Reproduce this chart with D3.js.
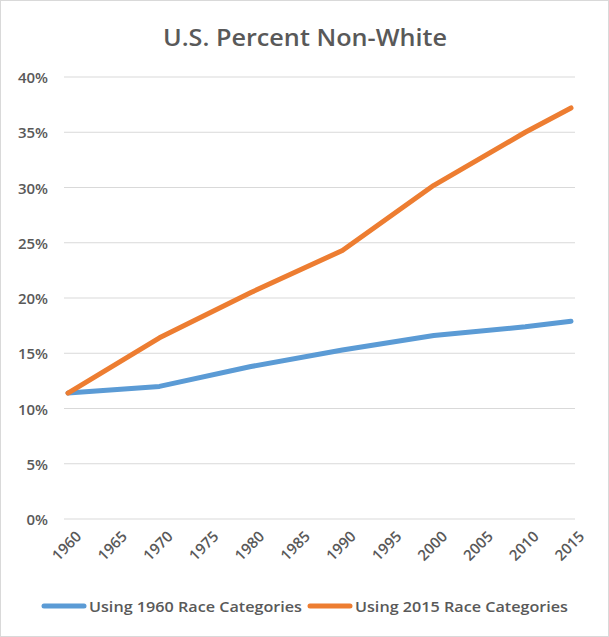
<!DOCTYPE html>
<html><head><meta charset="utf-8">
<script src="https://cdn.jsdelivr.net/npm/d3@7"></script>
<style>body{margin:0;background:#fff}</style>
</head><body>
<svg id="c" width="609" height="637"></svg>
<script>
const years = [1960, 1970, 1980, 1990, 2000, 2010, 2015];
const cat1960 = [11.4, 12.0, 13.8, 15.3, 16.6, 17.4, 17.9];
const cat2015 = [11.4, 16.4, 20.5, 24.3, 30.2, 35.0, 37.2];
const xTicks = d3.range(1960, 2016, 5);
const yTicks = d3.range(0, 41, 5);

const svg = d3.select("#c");
const font = "'Open Sans', 'DejaVu Sans', sans-serif";
svg.append("rect").attr("x", 0.5).attr("y", 0.5).attr("width", 608).attr("height", 636)
  .attr("fill", "#fff").attr("stroke", "#d9d9d9");

svg.append("text").attr("x", 163).attr("y", 46)
  .attr("textLength", 284).attr("lengthAdjust", "spacingAndGlyphs")
  .attr("font-family", font).attr("font-size", 24).attr("font-weight", 600)
  .attr("fill", "#595959").text("U.S. Percent Non-White");

const x = d3.scaleLinear().domain([1960, 2015]).range([68, 571]);
const y = d3.scaleLinear().domain([0, 40]).range([519, 77]);

const g = svg.append("g");
g.selectAll("line.grid").data(yTicks).join("line")
  .attr("x1", 64).attr("x2", 575).attr("y1", d => y(d)).attr("y2", d => y(d))
  .attr("stroke", "#d9d9d9").attr("stroke-width", 1);

g.selectAll("text.yl").data(yTicks).join("text")
  .attr("x", 48).attr("y", d => y(d) + 6).attr("text-anchor", "end")
  .attr("font-family", font).attr("font-size", 15).attr("font-weight", 600)
  .attr("fill", "#595959").text(d => d + "%");

g.selectAll("text.xl").data(xTicks).join("text")
  .attr("transform", d => `translate(${x(d) + 7},${530}) rotate(-45)`)
  .attr("text-anchor", "end").attr("dy", "0.7em")
  .attr("font-family", font).attr("font-size", 15).attr("font-weight", 600)
  .attr("fill", "#595959").text(d => d);

const line = d3.line().x((d, i) => x(years[i])).y(d => y(d));
[[cat1960, "#5b9bd5"], [cat2015, "#ed7d31"]].forEach(([vals, col]) => {
  svg.append("path").attr("d", line(vals)).attr("fill", "none")
    .attr("stroke", col).attr("stroke-width", 5).attr("stroke-linejoin", "round").attr("stroke-linecap", "round");
});

const legend = [["Using 1960 Race Categories", "#5b9bd5", 42], ["Using 2015 Race Categories", "#ed7d31", 308]];
legend.forEach(([t, col, lx]) => {
  svg.append("line").attr("x1", lx + 2).attr("x2", lx + 42).attr("y1", 606).attr("y2", 606)
    .attr("stroke", col).attr("stroke-width", 5).attr("stroke-linecap", "round");
  svg.append("text").attr("x", lx + 47).attr("y", 612).attr("font-family", font)
    .attr("textLength", 213).attr("lengthAdjust", "spacingAndGlyphs")
    .attr("font-size", 15).attr("font-weight", 600).attr("fill", "#595959").text(t);
});
</script>
</body></html>
